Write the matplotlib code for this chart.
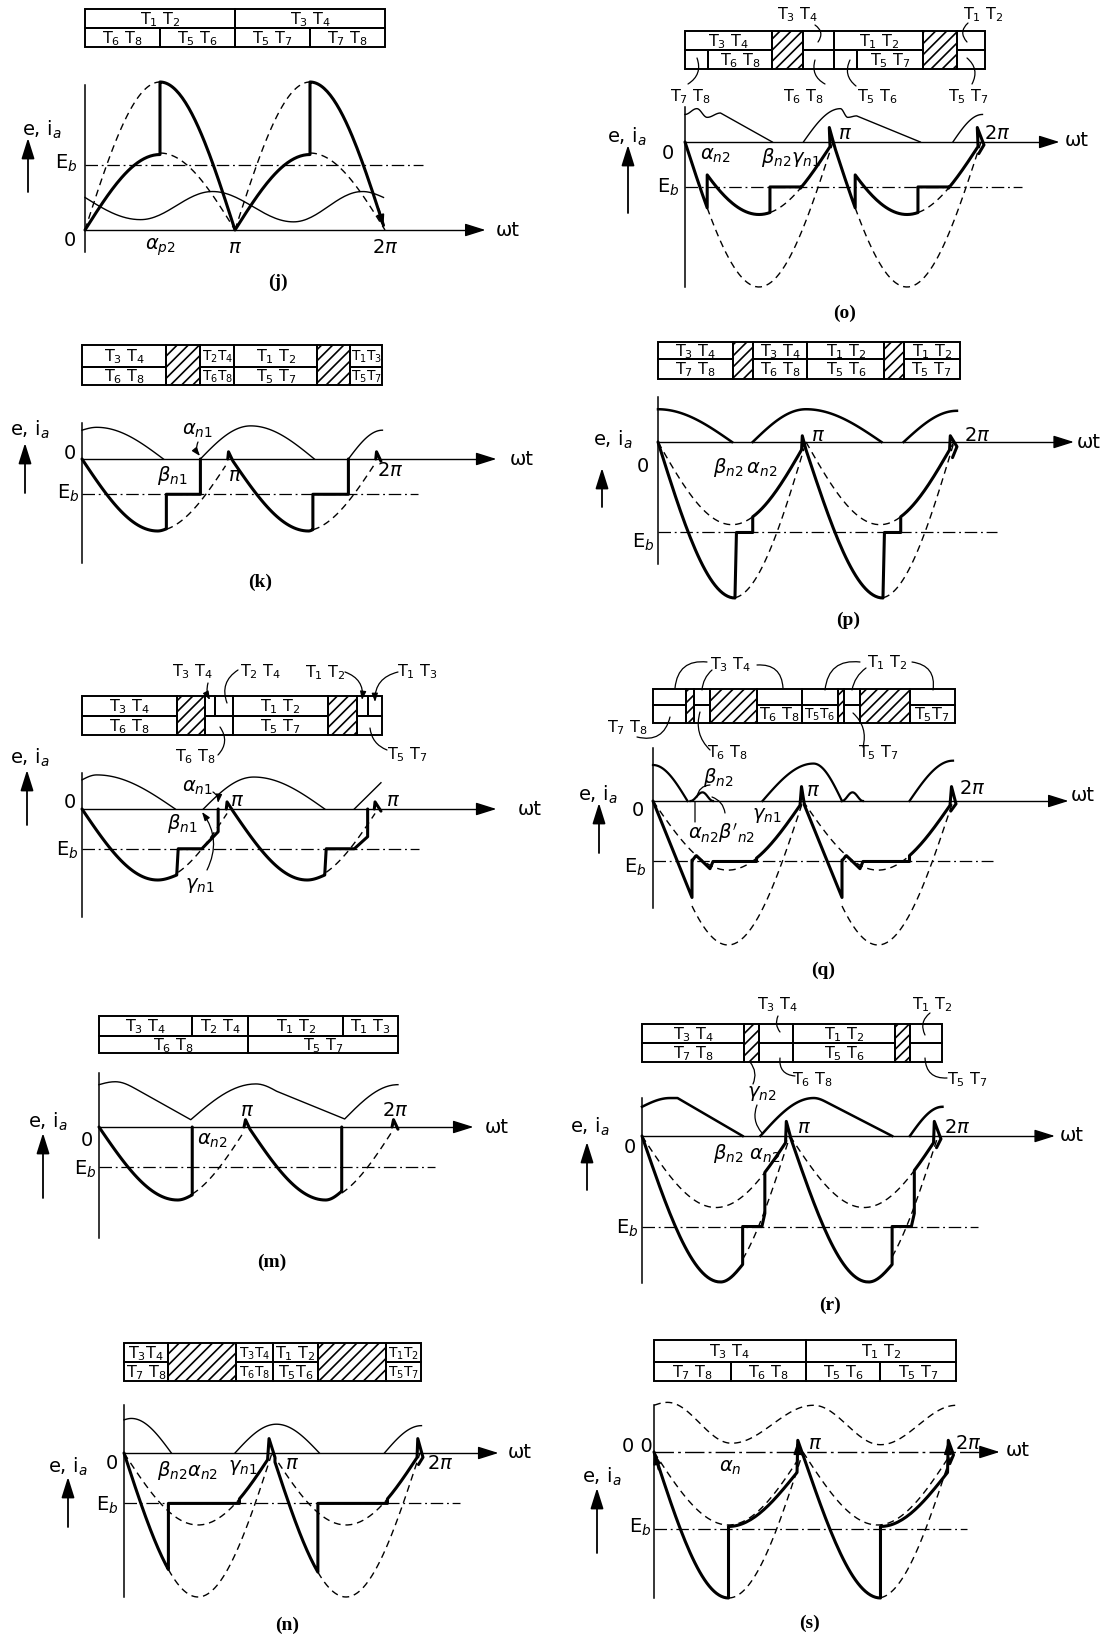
import re
import numpy as np
import matplotlib
matplotlib.use("Agg")
import matplotlib.pyplot as plt
from matplotlib.patches import Rectangle

W, H = 1102, 1635
plt.rcParams['font.family'] = ['DejaVu Sans']
plt.rcParams['mathtext.fontset'] = 'dejavusans'
plt.rcParams['hatch.linewidth'] = 1.2

# Waveform pieces: ('M', x, h) start, then 'L' line, 'S' ease-out, 'C' ease-in,
# 'H' half-cosine, 'R' follow a*|sin(wt)| (x in units of pi, h in units of peak).

# ---- (j)
j_top = [(0, 1, 'T1 T2'), (1, 2, 'T3 T4')]
j_bottom = [(0, .5, 'T6 T8'), (.5, 1, 'T5 T6'), (1, 1.5, 'T5 T7'), (1.5, 2, 'T7 T8')]
j_thick = [[('M', 0, 0), ('R', .5, .51), ('L', .5, 1.0), ('R', 1, 1), ('R', 1.5, .51), ('L', 1.5, 1), ('R', 1.99, 1)]]
j_dashed = [[('M', 0, None), ('R', .5, 1)], [('M', .5, None), ('R', 1, .52)],
            [('M', 1, None), ('R', 1.5, 1)], [('M', 1.5, None), ('R', 2, .52)]]
j_emf = [[('M', 0, .22), ('S', .37, .07), ('H', .85, .26), ('H', 1.39, .055), ('H', 1.85, .26), ('C', 1.99, .22)]]
j_labels = [('e, i$_a$', 42, 130), ('0', 70, 240), ('E$_b$', 66, 163), (r'$\alpha_{p2}$', 160, 247),
            (r'$\pi$', 235, 247), (r'$2\pi$', 385, 247), ('ωt', 508, 230)]

# ---- (o)
o_top = [(0, .59, 'T3 T4'), (.59, .8, '#'), (.8, 1.01, ''), (1.01, 1.61, 'T1 T2'), (1.61, 1.84, '#'), (1.84, 2.03, '')]
o_bottom = [(0, .155, ''), (.155, .59, 'T6 T8'), (.59, .8, '#'), (.8, 1.01, ''), (1.01, 1.16, ''),
            (1.16, 1.61, 'T5 T7'), (1.61, 1.84, '#'), (1.84, 2.03, '')]
o_thick = [[('M', 0, 0), ('R', .15, -1), ('R', .574, -.5), ('L', .574, -.31), ('L', .78, -.31), ('R', .98, -.5),
            ('L', .975, .1), ('L', 1.01, -.03), ('R', 1.15, -1), ('R', 1.574, -.5), ('L', 1.574, -.31),
            ('L', 1.78, -.31), ('R', 1.98, -.5), ('L', 1.975, .1), ('L', 2.02, -.02), ('L', 1.985, -.08)]]
o_dashed = [[('M', .15, None), ('R', 1, -1)], [('M', .574, None), ('R', 1, -.5)],
            [('M', 1.15, None), ('R', 2, -1)], [('M', 1.574, None), ('R', 2, -.5)]]
o_emf = [[('M', 0, .19), ('H', .08, .23), ('H', .15, .17), ('H', .24, .2), ('L', .59, 0)],
         [('M', .8, 0), ('S', 1.05, .23), ('H', 1.1, .17), ('H', 1.16, .18), ('L', 1.59, 0)],
         [('M', 1.81, 0), ('S', 2.01, .19)]]
o_labels = [('e, i$_a$', 627, 137), ('0', 668, 153), ('E$_b$', 668, 187), (r'$\alpha_{n2}$', 715, 155),
            (r'$\beta_{n2}\gamma_{n1}$', 791, 157), (r'$\pi$', 845, 133), (r'$2\pi$', 997, 133), ('ωt', 1077, 140)]
o_callouts = [('T3 T4', 797, 15, 815, 25, 818, 42, -0.5, False), ('T1 T2', 983, 15, 968, 23, 967, 42, 0.5, False),
              ('T7 T8', 690, 97, 697, 58, 688, 84, -0.4, False), ('T6 T8', 803, 97, 815, 60, 825, 84, 0.4, False),
              ('T5 T6', 877, 97, 850, 60, 856, 86, 0.4, False), ('T5 T7', 968, 97, 967, 58, 972, 84, -0.4, False)]

# ---- (k)
k_top = [(0, .57, 'T3 T4'), (.57, .8, '#'), (.8, 1.03, 'T2T4'), (1.03, 1.59, 'T1 T2'), (1.59, 1.81, '#'), (1.81, 2.03, 'T1T3')]
k_bottom = [(0, .57, 'T6 T8'), (.57, .8, '#'), (.8, 1.03, 'T6T8'), (1.03, 1.59, 'T5 T7'), (1.59, 1.81, '#'), (1.81, 2.03, 'T5T7')]
k_thick = [[('M', 0, 0), ('S', .51, -1), ('C', .57, -.97), ('L', .57, -.49), ('L', .8, -.49), ('L', .8, 0)],
           [('M', .985, 0), ('L', .99, .1), ('L', 1.02, -.03), ('S', 1.53, -1), ('C', 1.56, -.98), ('L', 1.56, -.49),
            ('L', 1.8, -.49), ('L', 1.8, 0)],
           [('M', 1.985, 0), ('L', 1.99, .1), ('L', 2.02, -.03)]]
k_dashed = [[('M', .57, None), ('R', .97, -1)], [('M', 1.56, None), ('R', 1.97, -1)]]
k_emf = [[('M', 0, .4), ('S', .1, .44), ('C', .55, 0)], [('M', .8, 0), ('S', 1.14, .46), ('C', 1.57, 0)],
         [('M', 1.8, 0), ('S', 2.03, .4)]]
k_labels = [('e, i$_a$', 30, 430), ('0', 70, 453), ('E$_b$', 68, 493), (r'$\alpha_{n1}$', 197, 430),
            (r'$\beta_{n1}$', 172, 475), (r'$\pi$', 235, 475), (r'$2\pi$', 390, 470), ('ωt', 522, 459)]
k_callouts = [('', 0, 0, 198, 442, 200, 456, 0.3, True)]

# ---- (p)
p_top = [(0, .51, 'T3 T4'), (.51, .64, '#'), (.64, 1.01, 'T3 T4'), (1.01, 1.53, 'T1 T2'), (1.53, 1.66, '#'), (1.66, 2.04, 'T1 T2')]
p_bottom = [(0, .51, 'T7 T8'), (.51, .64, '#'), (.64, 1.01, 'T6 T8'), (1.01, 1.53, 'T5 T6'), (1.53, 1.66, '#'), (1.66, 2.04, 'T5 T7')]
p_thick = [[('M', 0, 0), ('S', .52, -1), ('L', .53, -.58), ('L', .64, -.58), ('R', .97, -.53), ('L', .975, .04),
            ('L', 1.0, -.05), ('S', 1.52, -1), ('L', 1.53, -.58), ('L', 1.64, -.58), ('R', 1.97, -.53),
            ('L', 1.975, .04), ('L', 2.02, -.03), ('L', 1.99, -.1)]]
p_dashed = [[('M', 0, None), ('R', 1, -.53)], [('M', .52, None), ('R', 1, -1)],
            [('M', 1, None), ('R', 2, -.53)], [('M', 1.52, None), ('R', 2, -1)]]
p_emf = [[('M', 0, .21), ('C', .5, 0)], [('M', .64, 0), ('S', 1.0, .21), ('C', 1.51, 0)], [('M', 1.66, 0), ('S', 2.02, .2)]]
p_labels = [('e, i$_a$', 613, 440), ('0', 643, 466), ('E$_b$', 643, 542), (r'$\beta_{n2}\,\alpha_{n2}$', 745, 467),
            (r'$\pi$', 818, 435), (r'$2\pi$', 977, 435), ('ωt', 1089, 442)]

# ---- (l)
l_top = [(0, .64, 'T3 T4'), (.64, .83, '#'), (.83, .9, ''), (.9, 1.02, ''), (1.02, 1.66, 'T1 T2'),
         (1.66, 1.86, '#'), (1.86, 1.93, ''), (1.93, 2.03, '')]
l_bottom = [(0, .64, 'T6 T8'), (.64, .83, '#'), (.83, 1.02, ''), (1.02, 1.66, 'T5 T7'), (1.66, 1.86, '#'), (1.86, 2.03, '')]
l_thick = [[('M', 0, 0), ('S', .51, -1), ('C', .64, -.93), ('L', .65, -.56), ('L', .81, -.56), ('L', .92, -.32), ('L', .92, 0)],
           [('M', .975, 0), ('L', .98, .1), ('L', 1.02, -.03), ('S', 1.52, -1), ('C', 1.64, -.93), ('L', 1.65, -.56),
            ('L', 1.84, -.56), ('L', 1.93, -.39), ('L', 1.93, 0)],
           [('M', 1.975, 0), ('L', 1.98, .1), ('L', 2.02, -.03)]]
l_dashed = [[('M', .65, None), ('R', .98, -1)], [('M', 1.65, None), ('R', 1.98, -1)]]
l_emf = [[('M', 0, .41), ('S', .1, .48), ('C', .63, 0)], [('M', .82, 0), ('S', 1.16, .45), ('C', 1.64, 0)],
         [('M', 1.84, 0), ('L', 2.02, .37)]]
l_labels = [('e, i$_a$', 30, 758), ('0', 70, 802), ('E$_b$', 67, 850), (r'$\alpha_{n1}$', 197, 787),
            (r'$\beta_{n1}$', 182, 823), (r'$\gamma_{n1}$', 200, 885), (r'$\pi$', 237, 800), (r'$\pi$', 393, 800),
            ('ωt', 530, 809)]
l_callouts = [('T3 T4', 192, 672, 208, 683, 210, 700, 0.2, True), ('T2 T4', 260, 672, 238, 670, 227, 703, 0.4, False),
              ('T1 T2', 325, 673, 345, 672, 362, 700, -0.4, True), ('T1 T3', 417, 672, 398, 672, 375, 702, 0.4, True),
              ('T6 T8', 195, 757, 218, 755, 220, 727, 0.4, False), ('T5 T7', 407, 755, 387, 750, 370, 728, -0.3, False),
              ('', 0, 0, 213, 792, 218, 803, -0.3, True), ('', 0, 0, 207, 870, 202, 812, 0.3, True)]

# ---- (q)
q_top = [(0, .22, ''), (.22, .27, '#'), (.27, .38, ''), (.38, .69, '#'), (.69, .99, ''), (.99, 1.23, ''),
         (1.23, 1.27, '#'), (1.27, 1.38, ''), (1.38, 1.71, '#'), (1.71, 2.01, '')]
q_bottom = [(0, .22, ''), (.22, .27, '#'), (.27, .38, ''), (.38, .69, '#'), (.69, .99, 'T6 T8'), (.99, 1.23, 'T5T6'),
            (1.23, 1.27, '#'), (1.27, 1.38, ''), (1.38, 1.71, '#'), (1.71, 2.01, 'T5T7')]
q_thick = [[('M', 0, 0), ('L', .26, -.67), ('L', .26, -.41), ('H', .29, -.38), ('L', .38, -.47), ('L', .40, -.42),
            ('L', .69, -.42), ('R', .98, -.48), ('L', .99, .1), ('L', 1.01, -.03), ('L', 1.26, -.67), ('L', 1.26, -.41),
            ('H', 1.29, -.38), ('L', 1.38, -.47), ('L', 1.40, -.42), ('L', 1.71, -.42), ('R', 1.98, -.48),
            ('L', 1.99, .1), ('L', 2.02, -.02), ('L', 1.985, -.07)]]
q_dashed = [[('M', 0, None), ('R', 1, -.48)], [('M', .26, None), ('R', 1, -1)],
            [('M', 1, None), ('R', 2, -.48)], [('M', 1.26, None), ('R', 2, -1)]]
q_emf = [[('M', 0, .25), ('C', .23, 0)], [('M', .25, 0), ('H', .33, .06), ('H', .40, 0)],
         [('M', .73, 0), ('S', 1.07, .26), ('C', 1.26, 0)], [('M', 1.26, 0), ('H', 1.33, .06), ('H', 1.40, 0)],
         [('M', 1.71, 0), ('S', 2.0, .28)]]
q_labels = [('e, i$_a$', 598, 795), ('0', 638, 810), ('E$_b$', 635, 867), (r'$\beta_{n2}$', 718, 777),
            (r"$\alpha_{n2}\beta'_{n2}$", 722, 833), (r'$\gamma_{n1}$', 767, 815), (r'$\pi$', 813, 790),
            (r'$2\pi$', 972, 788), ('ωt', 1083, 795)]
q_callouts = [('T3 T4', 730, 665, 707, 662, 675, 688, 0.5, False), ('', 0, 0, 712, 670, 702, 690, 0.2, False),
              ('', 0, 0, 757, 665, 783, 688, -0.5, False), ('T1 T2', 887, 663, 860, 662, 825, 690, 0.5, False),
              ('', 0, 0, 866, 668, 852, 690, 0.2, False), ('', 0, 0, 912, 662, 933, 690, -0.5, False),
              ('T7 T8', 627, 728, 637, 737, 670, 717, 0.5, False), ('T6 T8', 727, 753, 710, 750, 700, 712, -0.3, False),
              ('T5 T7', 878, 753, 863, 747, 853, 713, 0.3, False), ('', 0, 0, 697, 797, 710, 785, -0.4, False),
              ('', 0, 0, 695, 822, 695, 802, 0.0, False), ('', 0, 0, 725, 813, 712, 797, 0.3, False)]

# ---- (m)
m_top = [(0, .63, 'T3 T4'), (.63, 1.01, 'T2 T4'), (1.01, 1.65, 'T1 T2'), (1.65, 2.02, 'T1 T3')]
m_bottom = [(0, 1.01, 'T6 T8'), (1.01, 2.02, 'T5 T7')]
m_thick = [[('M', 0, 0), ('S', .53, -1), ('C', .63, -.93), ('L', .63, 0)],
           [('M', .98, 0), ('L', .99, .1), ('L', 1.02, -.03), ('S', 1.53, -1), ('C', 1.64, -.88), ('L', 1.64, 0)],
           [('M', 1.98, 0), ('L', 1.99, .1), ('L', 2.02, -.03)]]
m_dashed = [[('M', .63, None), ('R', .98, -1)], [('M', 1.64, None), ('R', 1.98, -1)]]
m_emf = [[('M', 0, .58), ('S', .11, .62), ('C', .25, .52), ('L', .62, .1), ('S', 1.06, .59), ('C', 1.2, .49),
          ('L', 1.66, .11), ('S', 2.02, .58)]]
m_labels = [('e, i$_a$', 48, 1122), ('0', 87, 1140), ('E$_b$', 85, 1169), (r'$\alpha_{n2}$', 212, 1140),
            (r'$\pi$', 247, 1110), (r'$2\pi$', 395, 1110), ('ωt', 497, 1127)]

# ---- (r)
r_top = [(0, .69, 'T3 T4'), (.69, .79, '#'), (.79, 1.02, ''), (1.02, 1.71, 'T1 T2'), (1.71, 1.81, '#'), (1.81, 2.03, '')]
r_bottom = [(0, .69, 'T7 T8'), (.69, .79, '#'), (.79, 1.02, ''), (1.02, 1.71, 'T5 T6'), (1.71, 1.81, '#'), (1.81, 2.03, '')]
r_thick = [[('M', 0, 0), ('S', .53, -1), ('C', .68, -.88), ('L', .68, -.62), ('L', .81, -.62), ('L', .83, -.53),
            ('L', .83, -.25), ('R', .97, -.49), ('L', .975, .1), ('L', 1.01, -.03), ('S', 1.53, -1), ('C', 1.69, -.88),
            ('L', 1.69, -.62), ('L', 1.82, -.62), ('L', 1.84, -.53), ('L', 1.84, -.24), ('R', 1.97, -.49),
            ('L', 1.975, .1), ('L', 2.02, -.02), ('L', 1.99, -.08)]]
r_dashed = [[('M', 0, None), ('R', 1, -.49)], [('M', .68, None), ('R', 1, -1)],
            [('M', 1, None), ('R', 2, -.49)], [('M', 1.69, None), ('R', 2, -1)]]
r_emf = [[('M', 0, .2), ('S', .19, .26), ('L', .24, .26), ('L', .68, 0)],
         [('M', .8, 0), ('S', 1.16, .26), ('C', 1.25, .23), ('L', 1.69, 0)], [('M', 1.81, 0), ('S', 2.03, .2)]]
r_labels = [('e, i$_a$', 590, 1127), ('0', 630, 1147), ('E$_b$', 627, 1228), (r'$\beta_{n2}\ \alpha_{n2}$', 747, 1153),
            (r'$\gamma_{n2}$', 762, 1093), (r'$\pi$', 804, 1127), (r'$2\pi$', 957, 1127), ('ωt', 1072, 1135)]
r_callouts = [('T3 T4', 777, 1005, 778, 1016, 780, 1032, 0.3, False), ('T1 T2', 932, 1005, 930, 1013, 925, 1035, 0.4, False),
              ('T6 T8', 812, 1080, 780, 1058, 795, 1076, 0.5, False), ('T5 T7', 967, 1080, 925, 1058, 947, 1078, 0.5, False),
              ('', 0, 0, 750, 1062, 753, 1084, -0.3, False), ('', 0, 0, 757, 1105, 762, 1133, 0.3, False)]

# ---- (n)
n_top = [(0, .3, 'T3T4'), (.3, .76, '#'), (.76, 1.01, 'T3T4'), (1.01, 1.31, 'T1 T2'), (1.31, 1.77, '#'), (1.77, 2.01, 'T1T2')]
n_bottom = [(0, .3, 'T7 T8'), (.3, .76, '#'), (.76, 1.01, 'T6T8'), (1.01, 1.31, 'T5T6'), (1.31, 1.77, '#'), (1.77, 2.01, 'T5T7')]
n_thick = [[('M', 0, 0), ('R', .3, -1), ('L', .3, -.35), ('L', .78, -.35), ('R', .97, -.5), ('L', .98, .1),
            ('L', 1.02, -.03), ('R', 1.31, -1), ('L', 1.31, -.35), ('L', 1.78, -.35), ('R', 1.98, -.5),
            ('L', 1.985, .1), ('L', 2.02, -.03), ('L', 1.99, -.08)]]
n_dashed = [[('M', 0, None), ('R', 1, -.5)], [('M', .3, None), ('R', 1, -1)],
            [('M', 1, None), ('R', 2, -.5)], [('M', 1.31, None), ('R', 2, -1)]]
n_emf = [[('M', 0, .23), ('S', .05, .24), ('C', .32, 0)], [('M', .75, 0), ('S', 1.03, .2), ('C', 1.32, 0)],
         [('M', 1.76, 0), ('S', 2.01, .19)]]
n_labels = [('e, i$_a$', 68, 1467), ('0', 112, 1463), ('E$_b$', 107, 1505), (r'$\beta_{n2}\alpha_{n2}$', 188, 1470),
            (r'$\gamma_{n1}$', 243, 1467), (r'$\pi$', 292, 1463), (r'$2\pi$', 440, 1463), ('ωt', 520, 1452)]

# ---- (s)
s_top = [(0, 1.02, 'T3 T4'), (1.02, 2.03, 'T1 T2')]
s_bottom = [(0, .52, 'T7 T8'), (.52, 1.02, 'T6 T8'), (1.02, 1.52, 'T5 T6'), (1.52, 2.03, 'T5 T7')]
s_thick = [[('M', 0, 0), ('S', .5, -1), ('L', .5, -.51), ('C', .96, -.14), ('L', .965, .08), ('L', 1.0, -.02),
            ('S', 1.52, -1), ('L', 1.52, -.51), ('C', 1.97, -.14), ('L', 1.975, .08), ('L', 2.01, -.02), ('L', 1.985, -.08)]]
s_dashed = [[('M', 0, None), ('R', 1, -.5)], [('M', .5, None), ('R', 1, -1)],
            [('M', 1, None), ('R', 2, -.5)], [('M', 1.52, None), ('R', 2, -1)]]
s_emf = [[('M', 0, .32), ('S', .09, .34), ('H', .52, .06), ('H', 1.07, .32), ('H', 1.52, .05), ('H', 2.03, .32)]]
s_labels = [('0 0', 637, 1446), ('e, i$_a$', 602, 1477), ('E$_b$', 640, 1527), (r'$\alpha_n$', 730, 1467),
            (r'$\pi$', 815, 1443), (r'$2\pi$', 968, 1443), ('ωt', 1018, 1450)]

PANELS = [
    dict(origin=(85, 230), sx=150, amp=148, yaxis=(.98, -.15), xend=2.67, eb=.44, eb_end=2.25, rows=(9, 28, 47),
         top=j_top, bottom=j_bottom, thick=j_thick, dashed=j_dashed, emf=j_emf, emf_lw=1.0, labels=j_labels,
         callouts=[], arrow=(28, 192, 138), letter=('(j)', 278, 282),
         heads=[((1.99, 0.02), (1.96, 0.14))]),
    dict(origin=(685, 142), sx=148, amp=145, yaxis=(.24, -1.0), xend=2.53, eb=-.31, eb_end=2.28, rows=(31, 50, 69),
         top=o_top, bottom=o_bottom, thick=o_thick, dashed=o_dashed, emf=o_emf, emf_lw=1.0, labels=o_labels,
         callouts=o_callouts, arrow=(628, 213, 145), letter=('(o)', 845, 313)),
    dict(origin=(82, 459), sx=148, amp=72, yaxis=(.5, -1.44), xend=2.8, eb=-.49, eb_end=2.27, rows=(345, 367, 385),
         top=k_top, bottom=k_bottom, thick=k_thick, dashed=k_dashed, emf=k_emf, emf_lw=1.0, labels=k_labels,
         callouts=k_callouts, arrow=(25, 493, 443), letter=('(k)', 260, 582)),
    dict(origin=(658, 442), sx=148, amp=156, yaxis=(.29, -.78), xend=2.81, eb=-.58, eb_end=2.29, rows=(342, 359, 379),
         top=p_top, bottom=p_bottom, thick=p_thick, dashed=p_dashed, emf=p_emf, emf_lw=1.8, labels=p_labels,
         callouts=[], arrow=(602, 507, 468), letter=('(p)', 848, 620)),
    dict(origin=(82, 809), sx=148, amp=71, yaxis=(.51, -1.52), xend=2.8, eb=-.56, eb_end=2.28, rows=(696, 716, 735),
         top=l_top, bottom=l_bottom, thick=l_thick, dashed=l_dashed, emf=l_emf, emf_lw=1.0, labels=l_labels,
         callouts=l_callouts, arrow=(27, 825, 770), letter=None),
    dict(origin=(653, 801), sx=150, amp=144, yaxis=(.37, -.74), xend=2.77, eb=-.42, eb_end=2.27, rows=(689, 705, 723),
         top=q_top, bottom=q_bottom, thick=q_thick, dashed=q_dashed, emf=q_emf, emf_lw=1.6, labels=q_labels,
         callouts=q_callouts, arrow=(599, 853, 803), letter=('(q)', 823, 970)),
    dict(origin=(99, 1127), sx=148, amp=73, yaxis=(.74, -1.52), xend=2.53, eb=-.55, eb_end=2.27, rows=(1016, 1036, 1053),
         top=m_top, bottom=m_bottom, thick=m_thick, dashed=m_dashed, emf=m_emf, emf_lw=1.0, labels=m_labels,
         callouts=[], arrow=(43, 1198, 1133), letter=('(m)', 272, 1262)),
    dict(origin=(642, 1136), sx=148, amp=146, yaxis=(.26, -1.01), xend=2.79, eb=-.62, eb_end=2.27, rows=(1024, 1043, 1062),
         top=r_top, bottom=r_bottom, thick=r_thick, dashed=r_dashed, emf=r_emf, emf_lw=1.8, labels=r_labels,
         callouts=r_callouts, arrow=(587, 1190, 1142), letter=('(r)', 830, 1305)),
    dict(origin=(124, 1453), sx=148, amp=144, yaxis=(.33, -1.0), xend=2.53, eb=-.35, eb_end=2.27, rows=(1343, 1362, 1381),
         top=n_top, bottom=n_bottom, thick=n_thick, dashed=n_dashed, emf=n_emf, emf_lw=1.0, labels=n_labels,
         callouts=[], arrow=(68, 1527, 1477), letter=('(n)', 287, 1625)),
    dict(origin=(654, 1452), sx=149, amp=146, yaxis=(.32, -1.0), xend=2.32, eb=-.53, eb_end=2.1, rows=(1340, 1362, 1381),
         top=s_top, bottom=s_bottom, thick=s_thick, dashed=s_dashed, emf=s_emf, emf_lw=1.0, emf_ls=(0, (5, 3.5)),
         zero_ls=(0, (14, 3, 2, 3)), labels=s_labels, callouts=[], arrow=(597, 1553, 1488), letter=('(s)', 810, 1623),
         heads=[((0.0, 0.0), (0.03, -0.12)), ((0.963, 0.07), (0.962, -0.04)), ((1.973, 0.07), (1.972, -0.04))]),
]


def trace(piece):
    xs, ys = [], []
    cx = ch = None
    for code, x, h in piece:
        if code == 'M':
            cx, ch = x, h
            if h is not None:
                xs.append(x)
                ys.append(h)
            continue
        if code == 'L':
            xs.append(x)
            ys.append(h)
        elif code == 'R':
            t = np.linspace(cx, x, 48)
            seg = h * np.abs(np.sin(np.pi * t))
            xs.extend(t)
            ys.extend(seg)
            h = seg[-1]
        else:
            t = np.linspace(0, 1, 32)[1:]
            if code == 'S':
                f = np.sin(np.pi / 2 * t)
            elif code == 'C':
                f = 1 - np.cos(np.pi / 2 * t)
            else:
                f = (1 - np.cos(np.pi * t)) / 2
            xs.extend(cx + (x - cx) * t)
            ys.extend(ch + (h - ch) * f)
        cx, ch = x, h
    return xs, ys


def tname(s):
    return re.sub(r'T(\d)', r'T$_{\1}$', s)


def cell_text(sheet, xa, xb, y, lab):
    # squeeze the thyristor pair into narrow cells
    size = 11.5 if xb - xa > 38 else 10
    sheet.text((xa + xb) / 2, y, tname(lab), ha='center', va='center', fontsize=size)


def draw_table(sheet, p):
    x0 = p['origin'][0]
    sx = p['sx']
    ytop, ymid, ybot = p['rows']
    for a, b, lab in p['top']:
        xa, xb = x0 + a * sx, x0 + b * sx
        if lab == '#':
            sheet.add_patch(Rectangle((xa, ytop), xb - xa, ybot - ytop, fill=False, hatch='///',
                                      lw=1.4, ec='k'))
            continue
        sheet.add_patch(Rectangle((xa, ytop), xb - xa, ymid - ytop, fill=False, lw=1.4, ec='k'))
        if lab:
            cell_text(sheet, xa, xb, (ytop + ymid) / 2 + 1, lab)
    for a, b, lab in p['bottom']:
        if lab == '#':
            continue
        xa, xb = x0 + a * sx, x0 + b * sx
        sheet.add_patch(Rectangle((xa, ymid), xb - xa, ybot - ymid, fill=False, lw=1.4, ec='k'))
        if lab:
            cell_text(sheet, xa, xb, (ymid + ybot) / 2 + 1, lab)


fig = plt.figure(figsize=(W / 100, H / 100), dpi=100)
sheet = fig.add_axes([0, 0, 1, 1])
sheet.set_xlim(0, W)
sheet.set_ylim(H, 0)
sheet.axis('off')

head = '-|>,head_length=0.7,head_width=0.22'

for p in PANELS:
    x0, y0 = p['origin']
    sx, amp = p['sx'], p['amp']
    ax = fig.add_axes([0, 0, 1, 1])
    ax.set_xlim(-x0 / sx, (W - x0) / sx)
    ax.set_ylim((y0 - H) / amp, y0 / amp)
    ax.axis('off')

    # axes of the waveform
    ytop, ybot = p['yaxis']
    ax.plot([0, 0], [ytop, ybot], color='k', lw=1.1)
    ax.plot([0, p['xend'] - 0.05], [0, 0], color='k', lw=1.0, ls=p.get('zero_ls', '-'))
    ax.annotate('', xy=(p['xend'], 0), xytext=(p['xend'] - 0.06, 0),
                arrowprops=dict(arrowstyle=head, color='k', lw=1.0, mutation_scale=18, shrinkA=0, shrinkB=0))
    ax.plot([0, p['eb_end']], [p['eb'], p['eb']], color='k', lw=0.9, ls=(0, (10, 3, 1.5, 3)))

    for piece in p['dashed']:
        xs, ys = trace(piece)
        ax.plot(xs, ys, color='k', lw=1.0, ls=(0, (5, 3.5)))
    for piece in p['emf']:
        xs, ys = trace(piece)
        ax.plot(xs, ys, color='k', lw=p['emf_lw'], ls=p.get('emf_ls', '-'), solid_joinstyle='round')
    for piece in p['thick']:
        xs, ys = trace(piece)
        ax.plot(xs, ys, color='k', lw=2.2, solid_joinstyle='round', solid_capstyle='round')
    for tip, tail in p.get('heads', []):
        ax.annotate('', xy=tip, xytext=tail,
                    arrowprops=dict(arrowstyle=head, color='k', lw=1.2, mutation_scale=10, shrinkA=0, shrinkB=0))

    draw_table(sheet, p)

    for text, x, y in p['labels']:
        sheet.text(x, y, text, ha='center', va='center', fontsize=14)

    for lab, lx, ly, x1, y1, x2, y2, rad, arrow in p['callouts']:
        if lab:
            sheet.text(lx, ly, tname(lab), ha='center', va='center', fontsize=11.5)
        sheet.annotate('', xy=(x2, y2), xytext=(x1, y1),
                       arrowprops=dict(arrowstyle='-|>,head_length=0.5,head_width=0.18' if arrow else '-',
                                       color='k', lw=0.9, mutation_scale=10, shrinkA=0, shrinkB=0,
                                       connectionstyle=f'arc3,rad={rad}'))

    ax_x, ay1, ay2 = p['arrow']
    sheet.annotate('', xy=(ax_x, ay2), xytext=(ax_x, ay1),
                   arrowprops=dict(arrowstyle=head, color='k', lw=1.3, mutation_scale=18, shrinkA=0, shrinkB=0))

    if p['letter']:
        lab, lx, ly = p['letter']
        sheet.text(lx, ly, lab, ha='center', va='center', fontsize=14, fontweight='bold',
                   fontfamily='Liberation Serif')

fig.savefig('out.png', dpi=100)
